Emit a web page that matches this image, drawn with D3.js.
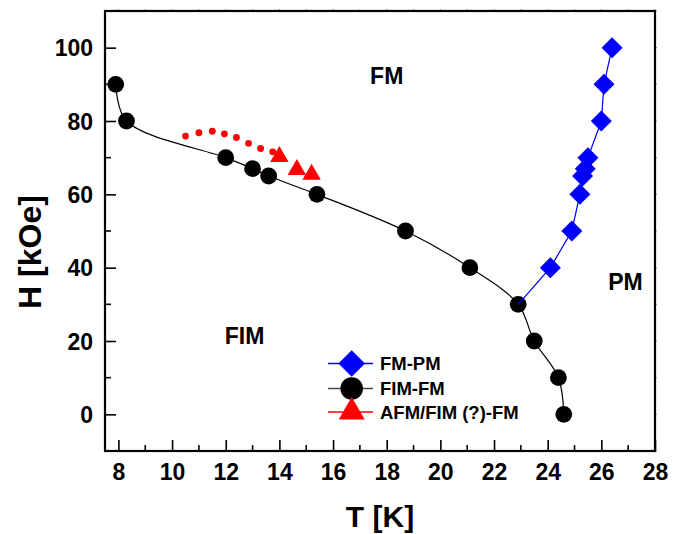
<!DOCTYPE html>
<html>
<head>
<meta charset="utf-8">
<script src="https://cdn.jsdelivr.net/npm/d3@7"></script>
<style>
	body { margin: 0; background: #fff; }
	text { font-family: "Liberation Sans", Arial, sans-serif; font-weight: bold; fill: #000; }
</style>
</head>
<body>
<div id="viz-container"></div>
<script>
// FIM-FM boundary (black circles)
var fimT = [7.9, 8.3, 12.0, 13.0, 13.6, 15.4, 18.7, 21.1, 22.9, 23.5, 24.4, 24.6];
var fimH = [90, 80, 70, 67, 65, 60, 50, 40, 30, 20, 10, 0];
// FM-PM boundary (blue diamonds), line starts at the FIM-FM point (22.9, 30)
var fmpmT = [22.9, 24.1, 24.9, 25.2, 25.3, 25.4, 25.5, 26.0, 26.1, 26.4];
var fmpmH = [30, 40, 50, 60, 65, 67, 70, 80, 90, 100];
// AFM/FIM (?)-FM (red triangles)
var afmT = [14.0, 14.65, 15.2];
var afmH = [70.3, 66.7, 65.4];
// red dotted guide
var dotT = [10.5, 11.0, 11.5, 11.95, 12.4, 12.85, 13.3, 13.75];
var dotH = [75.9, 76.8, 77.2, 76.5, 75.5, 73.9, 72.5, 71.6];

var xTicks = [8, 10, 12, 14, 16, 18, 20, 22, 24, 26, 28];
var yTicks = [0, 20, 40, 60, 80, 100];
var legendNames = ['FM-PM', 'FIM-FM', 'AFM/FIM (?)-FM'];
var regionLabels = [
	{text: 'FM', t: 18.0, h: 90},
	{text: 'PM', t: 26.9, h: 33.9},
	{text: 'FIM', t: 12.7, h: 19.2}
];

draw();

function draw () {
	var width = 685, height = 534;
	var mLeft = 105, mRight = 655, mTop = 11, mBottom = 451;

	var svg = d3.select('#viz-container')
		.append('svg')
		.attr('width', width)
		.attr('height', height);

	var x = d3.scaleLinear().domain([7.5, 28]).range([mLeft, mRight]);
	var y = d3.scaleLinear().domain([-10, 110]).range([mBottom, mTop]);

	// minor ticks
	var xMinor = d3.range(8, 28.01, 1);
	var yMinor = d3.range(-10, 110.01, 10);

	var xAxis = d3.axisBottom(x).tickValues(xTicks).tickSize(-11).tickPadding(0).tickFormat(d3.format('d'));
	var yAxis = d3.axisLeft(y).tickValues(yTicks).tickSize(-11).tickPadding(0).tickFormat(d3.format('d'));

	var gx = svg.append('g').attr('transform', 'translate(0,' + mBottom + ')').call(xAxis);
	var gy = svg.append('g').attr('transform', 'translate(' + mLeft + ',0)').call(yAxis);

	[gx, gy].forEach(function(g){
		g.select('.domain').remove();
		g.selectAll('line').attr('stroke', '#000').attr('stroke-width', 1.6);
		g.selectAll('text').style('font-size', '23px').attr('fill', '#000');
	});
	gx.selectAll('text').attr('y', 29).attr('dy', 0);
	gy.selectAll('text').attr('x', -12).attr('dy', '0.36em');

	svg.append('g').selectAll('line')
		.data(xMinor.filter(function(d){ return xTicks.indexOf(d) < 0; }))
		.enter().append('line')
		.attr('x1', function(d){ return x(d); })
		.attr('x2', function(d){ return x(d); })
		.attr('y1', mBottom).attr('y2', mBottom - 6)
		.attr('stroke', '#000').attr('stroke-width', 1.6);

	svg.append('g').selectAll('line')
		.data(yMinor.filter(function(d){ return yTicks.indexOf(d) < 0; }))
		.enter().append('line')
		.attr('y1', function(d){ return y(d); })
		.attr('y2', function(d){ return y(d); })
		.attr('x1', mLeft).attr('x2', mLeft + 6)
		.attr('stroke', '#000').attr('stroke-width', 1.6);

	// tiny outside ticks on top and right
	svg.append('g').selectAll('line')
		.data(xMinor)
		.enter().append('line')
		.attr('x1', function(d){ return x(d); })
		.attr('x2', function(d){ return x(d); })
		.attr('y1', mTop).attr('y2', mTop - 2)
		.attr('stroke', '#999').attr('stroke-width', 1);
	svg.append('g').selectAll('line')
		.data(yMinor)
		.enter().append('line')
		.attr('y1', function(d){ return y(d); })
		.attr('y2', function(d){ return y(d); })
		.attr('x1', mRight).attr('x2', mRight + 2)
		.attr('stroke', '#999').attr('stroke-width', 1);

	// frame
	svg.append('rect')
		.attr('x', mLeft).attr('y', mTop)
		.attr('width', mRight - mLeft).attr('height', mBottom - mTop)
		.attr('fill', 'none').attr('stroke', '#000').attr('stroke-width', 2.2);

	// axis titles
	svg.append('text')
		.attr('x', (mLeft + mRight) / 2).attr('y', 527)
		.attr('text-anchor', 'middle')
		.style('font-size', '30px')
		.text('T [K]');
	svg.append('text')
		.attr('transform', 'translate(41,252) rotate(-90)')
		.attr('text-anchor', 'middle')
		.style('font-size', '32px')
		.text('H [kOe]');

	// region labels
	svg.append('g').selectAll('text')
		.data(regionLabels)
		.enter().append('text')
		.attr('x', function(d){ return x(d.t); })
		.attr('y', function(d){ return y(d.h); })
		.attr('text-anchor', 'middle')
		.style('font-size', '23px')
		.text(function(d){ return d.text; });

	var fimData = fimT.map(function(t, i){ return [t, fimH[i]]; });
	var fmpmData = fmpmT.map(function(t, i){ return [t, fmpmH[i]]; });
	var afmData = afmT.map(function(t, i){ return [t, afmH[i]]; });
	var dotData = dotT.map(function(t, i){ return [t, dotH[i]]; });

	// FIM-FM curve
	svg.append('path')
		.datum(fimData)
		.attr('d', d3.line()
			.x(function(d){ return x(d[0]); })
			.y(function(d){ return y(d[1]); })
			.curve(d3.curveCatmullRom.alpha(0.5)))
		.attr('fill', 'none')
		.attr('stroke', '#000')
		.attr('stroke-width', 1.2);

	svg.append('g').selectAll('circle')
		.data(fimData)
		.enter().append('circle')
		.attr('cx', function(d){ return x(d[0]); })
		.attr('cy', function(d){ return y(d[1]); })
		.attr('r', 8.4)
		.attr('fill', '#000');

	// FM-PM
	svg.append('path')
		.datum(fmpmData)
		.attr('d', d3.line()
			.x(function(d){ return x(d[0]); })
			.y(function(d){ return y(d[1]); }))
		.attr('fill', 'none')
		.attr('stroke', '#0000ff')
		.attr('stroke-width', 1.2);

	svg.append('g').selectAll('path')
		.data(fmpmData.slice(1))
		.enter().append('path')
		.attr('transform', function(d){ return 'translate(' + x(d[0]) + ',' + y(d[1]) + ')'; })
		.attr('d', diamond(10.5))
		.attr('fill', '#0000ff');

	// red dotted guide and triangles
	svg.append('g').selectAll('circle')
		.data(dotData)
		.enter().append('circle')
		.attr('cx', function(d){ return x(d[0]); })
		.attr('cy', function(d){ return y(d[1]); })
		.attr('r', 3.4)
		.attr('fill', '#ff0000');

	svg.append('g').selectAll('path')
		.data(afmData)
		.enter().append('path')
		.attr('transform', function(d){ return 'translate(' + x(d[0]) + ',' + y(d[1]) + ')'; })
		.attr('d', triangle(18.5))
		.attr('fill', '#ff0000');

	// legend
	var legendColors = ['#0000ff', '#444', '#ff0000'];
	var legendMarkColors = ['#0000ff', '#000', '#ff0000'];
	var legendY = [363.5, 388.5, 412];
	var lg = svg.append('g');
	legendNames.forEach(function(name, i){
		lg.append('line')
			.attr('x1', 328).attr('x2', 373)
			.attr('y1', legendY[i]).attr('y2', legendY[i])
			.attr('stroke', legendColors[i]).attr('stroke-width', 1.3);
		var m;
		if (i === 0) {
			m = lg.append('path').attr('d', diamond(13.3));
		} else if (i === 1) {
			m = lg.append('circle').attr('r', 11.3);
		} else {
			m = lg.append('path').attr('d', triangle(26));
		}
		m.attr('transform', 'translate(351.7,' + legendY[i] + ')').attr('fill', legendMarkColors[i]);
		lg.append('text')
			.attr('x', 380).attr('y', legendY[i])
			.attr('dy', '0.36em')
			.style('font-size', '18.5px')
			.text(name);
	});
}

function diamond(s) {
	return 'M0,' + (-s) + 'L' + s + ',0L0,' + s + 'L' + (-s) + ',0Z';
}

function triangle(w) {
	var h = w * 0.866;
	return 'M0,' + (-h * 2 / 3) + 'L' + (w / 2) + ',' + (h / 3) + 'L' + (-w / 2) + ',' + (h / 3) + 'Z';
}
</script>
</body>
</html>
